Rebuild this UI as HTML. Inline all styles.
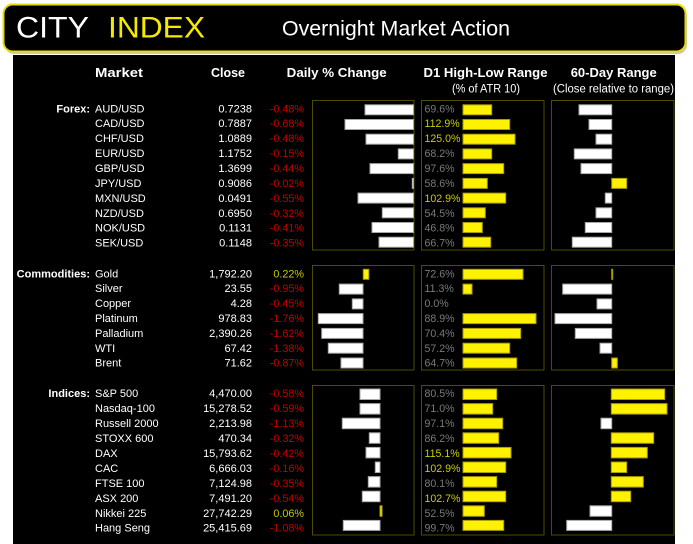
<!DOCTYPE html>
<html><head><meta charset="utf-8">
<style>
html,body{margin:0;padding:0;background:#fff;}
svg{display:block;}
text{font-family:"Liberation Sans",Arial,sans-serif;}
.n{font-size:11px;fill:#fff;}
.c{font-size:11px;fill:#fff;text-anchor:end;}
.r{font-size:10.8px;fill:#c00000;text-anchor:end;}
.p{font-size:10.8px;fill:#c8c800;text-anchor:end;}
.g{font-size:10.6px;fill:#7a7a7a;}
.y{font-size:10.6px;fill:#c8cc00;}
.s{font-size:11px;fill:#fff;font-weight:bold;text-anchor:end;}
.h{font-size:13px;fill:#fff;font-weight:bold;text-anchor:middle;}
.sub{font-size:11.5px;fill:#fff;text-anchor:middle;}
.w{fill:#fff;stroke:#a8a8a8;stroke-width:1;}
.yb{fill:#fff200;stroke:#a89c00;stroke-width:1;}
.bx{fill:none;stroke:#4f4b00;stroke-width:1;}
</style></head>
<body>
<svg width="693" height="544" viewBox="0 0 693 544" xmlns="http://www.w3.org/2000/svg">
<rect x="0" y="0" width="693" height="544" fill="#fff"/>
<!-- header -->
<rect x="5" y="7" width="682" height="47" rx="9" fill="#c8c8c8"/>
<rect x="3.5" y="4.5" width="682" height="47" rx="9" fill="#000" stroke="#e6dc00" stroke-width="2"/>
<text x="16" y="37.5" font-size="30" fill="#fff" textLength="73" lengthAdjust="spacingAndGlyphs">CITY</text>
<text x="108" y="37.5" font-size="30" fill="#f5e900" textLength="97" lengthAdjust="spacingAndGlyphs">INDEX</text>
<text x="282" y="35.5" font-size="21" fill="#fff" textLength="228" lengthAdjust="spacingAndGlyphs">Overnight Market Action</text>
<!-- main black -->
<rect x="13" y="55" width="662" height="489" fill="#000"/>
<!-- column headers -->
<text class="h" x="119" y="77" textLength="48" lengthAdjust="spacingAndGlyphs">Market</text>
<text class="h" x="228" y="77" textLength="34" lengthAdjust="spacingAndGlyphs">Close</text>
<text class="h" x="336.7" y="77" textLength="100" lengthAdjust="spacingAndGlyphs">Daily % Change</text>
<text class="h" x="485.5" y="77" textLength="124" lengthAdjust="spacingAndGlyphs">D1 High-Low Range</text>
<text class="h" x="613.7" y="77" textLength="86" lengthAdjust="spacingAndGlyphs">60-Day Range</text>
<text class="sub" x="486" y="92.5" textLength="68" lengthAdjust="spacingAndGlyphs">(% of ATR 10)</text>
<text class="sub" x="613.5" y="92.5" textLength="121" lengthAdjust="spacingAndGlyphs">(Close relative to range)</text>

<!-- boxes -->
<rect class="bx" x="312.5" y="100.5" width="101.5" height="149.5"/>
<rect class="bx" x="421.5" y="100.5" width="122.5" height="149.5"/>
<rect class="bx" x="551.5" y="100.5" width="122.5" height="149.5"/>
<rect class="bx" x="312.5" y="265.5" width="101.5" height="104.5"/>
<rect class="bx" x="421.5" y="265.5" width="122.5" height="104.5"/>
<rect class="bx" x="551.5" y="265.5" width="122.5" height="104.5"/>
<rect class="bx" x="312.5" y="385.5" width="101.5" height="149.5"/>
<rect class="bx" x="421.5" y="385.5" width="122.5" height="149.5"/>
<rect class="bx" x="551.5" y="385.5" width="122.5" height="149.5"/>

<!-- FOREX text -->
<text class="s" x="90" y="112.3">Forex:</text>
<text class="n" x="95" y="112.3">AUD/USD</text><text class="c" x="252" y="112.3">0.7238</text><text class="r" x="304" y="112.3">-0.48%</text><text class="g" x="424.5" y="112.3">69.6%</text>
<text class="n" x="95" y="127.2">CAD/USD</text><text class="c" x="252" y="127.2">0.7887</text><text class="r" x="304" y="127.2">-0.68%</text><text class="y" x="424.5" y="127.2">112.9%</text>
<text class="n" x="95" y="142.2">CHF/USD</text><text class="c" x="252" y="142.2">1.0889</text><text class="r" x="304" y="142.2">-0.48%</text><text class="y" x="424.5" y="142.2">125.0%</text>
<text class="n" x="95" y="157.1">EUR/USD</text><text class="c" x="252" y="157.1">1.1752</text><text class="r" x="304" y="157.1">-0.15%</text><text class="g" x="424.5" y="157.1">68.2%</text>
<text class="n" x="95" y="172.0">GBP/USD</text><text class="c" x="252" y="172.0">1.3699</text><text class="r" x="304" y="172.0">-0.44%</text><text class="g" x="424.5" y="172.0">97.6%</text>
<text class="n" x="95" y="187.0">JPY/USD</text><text class="c" x="252" y="187.0">0.9086</text><text class="r" x="304" y="187.0">-0.02%</text><text class="g" x="424.5" y="187.0">58.6%</text>
<text class="n" x="95" y="201.9">MXN/USD</text><text class="c" x="252" y="201.9">0.0491</text><text class="r" x="304" y="201.9">-0.55%</text><text class="y" x="424.5" y="201.9">102.9%</text>
<text class="n" x="95" y="216.8">NZD/USD</text><text class="c" x="252" y="216.8">0.6950</text><text class="r" x="304" y="216.8">-0.32%</text><text class="g" x="424.5" y="216.8">54.5%</text>
<text class="n" x="95" y="231.7">NOK/USD</text><text class="c" x="252" y="231.7">0.1131</text><text class="r" x="304" y="231.7">-0.41%</text><text class="g" x="424.5" y="231.7">46.8%</text>
<text class="n" x="95" y="246.7">SEK/USD</text><text class="c" x="252" y="246.7">0.1148</text><text class="r" x="304" y="246.7">-0.35%</text><text class="g" x="424.5" y="246.7">66.7%</text>

<!-- FOREX bars: daily -->
<rect class="w" x="365" y="104.8" width="48.5" height="10"/>
<rect class="w" x="345" y="119.5" width="68.5" height="10"/>
<rect class="w" x="366" y="134.2" width="47.5" height="10"/>
<rect class="w" x="398.3" y="148.9" width="15.2" height="10"/>
<rect class="w" x="370" y="163.6" width="43.5" height="10"/>
<rect class="w" x="412.3" y="178.4" width="1.2" height="10"/>
<rect class="w" x="358" y="193.1" width="55.5" height="10"/>
<rect class="w" x="382.3" y="207.8" width="31.2" height="10"/>
<rect class="w" x="372" y="222.5" width="41.5" height="10"/>
<rect class="w" x="379" y="237.2" width="34.5" height="10"/>
<!-- FOREX bars: D1 -->
<rect class="yb" x="463" y="104.8" width="28.7" height="10"/>
<rect class="yb" x="463" y="119.5" width="46.7" height="10"/>
<rect class="yb" x="463" y="134.2" width="52" height="10"/>
<rect class="yb" x="463" y="148.9" width="28.7" height="10"/>
<rect class="yb" x="463" y="163.6" width="40.7" height="10"/>
<rect class="yb" x="463" y="178.4" width="24.3" height="10"/>
<rect class="yb" x="463" y="193.1" width="42.7" height="10"/>
<rect class="yb" x="463" y="207.8" width="22.3" height="10"/>
<rect class="yb" x="463" y="222.5" width="19.3" height="10"/>
<rect class="yb" x="463" y="237.2" width="27.7" height="10"/>
<!-- FOREX bars: 60-day -->
<rect class="w" x="579" y="104.8" width="32.7" height="10"/>
<rect class="w" x="589" y="119.5" width="22.7" height="10"/>
<rect class="w" x="596" y="134.2" width="15.7" height="10"/>
<rect class="w" x="574.3" y="148.9" width="37.4" height="10"/>
<rect class="w" x="581" y="163.6" width="30.7" height="10"/>
<rect class="yb" x="611.7" y="178.4" width="15" height="10"/>
<rect class="w" x="605.3" y="193.1" width="6.4" height="10"/>
<rect class="w" x="596" y="207.8" width="15.7" height="10"/>
<rect class="w" x="585.3" y="222.5" width="26.4" height="10"/>
<rect class="w" x="572.3" y="237.2" width="39.4" height="10"/>

<!-- COMMODITIES text -->
<text class="s" x="90" y="277.3">Commodities:</text>
<text class="n" x="95" y="277.3">Gold</text><text class="c" x="252" y="277.3">1,792.20</text><text class="p" x="304" y="277.3">0.22%</text><text class="g" x="424.5" y="277.3">72.6%</text>
<text class="n" x="95" y="292.2">Silver</text><text class="c" x="252" y="292.2">23.55</text><text class="r" x="304" y="292.2">-0.95%</text><text class="g" x="424.5" y="292.2">11.3%</text>
<text class="n" x="95" y="307.1">Copper</text><text class="c" x="252" y="307.1">4.28</text><text class="r" x="304" y="307.1">-0.45%</text><text class="g" x="424.5" y="307.1">0.0%</text>
<text class="n" x="95" y="322.0">Platinum</text><text class="c" x="252" y="322.0">978.83</text><text class="r" x="304" y="322.0">-1.76%</text><text class="g" x="424.5" y="322.0">88.9%</text>
<text class="n" x="95" y="336.9">Palladium</text><text class="c" x="252" y="336.9">2,390.26</text><text class="r" x="304" y="336.9">-1.62%</text><text class="g" x="424.5" y="336.9">70.4%</text>
<text class="n" x="95" y="351.8">WTI</text><text class="c" x="252" y="351.8">67.42</text><text class="r" x="304" y="351.8">-1.38%</text><text class="g" x="424.5" y="351.8">57.2%</text>
<text class="n" x="95" y="366.7">Brent</text><text class="c" x="252" y="366.7">71.62</text><text class="r" x="304" y="366.7">-0.87%</text><text class="g" x="424.5" y="366.7">64.7%</text>

<!-- COMMODITIES bars: daily -->
<rect class="yb" x="363.3" y="269.3" width="5.5" height="10"/>
<rect class="w" x="339.3" y="284.1" width="23.7" height="10"/>
<rect class="w" x="352.3" y="298.9" width="10.7" height="10"/>
<rect class="w" x="318.3" y="313.6" width="44.7" height="10"/>
<rect class="w" x="321.7" y="328.4" width="41.3" height="10"/>
<rect class="w" x="328.3" y="343.2" width="34.7" height="10"/>
<rect class="w" x="341" y="358" width="22" height="10"/>
<!-- D1 -->
<rect class="yb" x="463" y="269.3" width="60" height="10"/>
<rect class="yb" x="463" y="284.1" width="9" height="10"/>
<rect class="yb" x="463" y="313.6" width="73" height="10"/>
<rect class="yb" x="463" y="328.4" width="57.7" height="10"/>
<rect class="yb" x="463" y="343.2" width="46.7" height="10"/>
<rect class="yb" x="463" y="358" width="53.7" height="10"/>
<!-- 60 -->
<rect class="yb" x="611.7" y="269.3" width="1" height="10"/>
<rect class="w" x="562.7" y="284.1" width="49" height="10"/>
<rect class="w" x="597" y="298.9" width="14.7" height="10"/>
<rect class="w" x="555" y="313.6" width="56.7" height="10"/>
<rect class="w" x="575.3" y="328.4" width="36.4" height="10"/>
<rect class="w" x="600" y="343.2" width="11.7" height="10"/>
<rect class="yb" x="611.7" y="358" width="5.6" height="10"/>

<!-- INDICES text -->
<text class="s" x="90" y="397.0">Indices:</text>
<text class="n" x="95" y="397.0">S&amp;P 500</text><text class="c" x="252" y="397.0">4,470.00</text><text class="r" x="304" y="397.0">-0.58%</text><text class="g" x="424.5" y="397.0">80.5%</text>
<text class="n" x="95" y="412.0">Nasdaq-100</text><text class="c" x="252" y="412.0">15,278.52</text><text class="r" x="304" y="412.0">-0.59%</text><text class="g" x="424.5" y="412.0">71.0%</text>
<text class="n" x="95" y="426.9">Russell 2000</text><text class="c" x="252" y="426.9">2,213.98</text><text class="r" x="304" y="426.9">-1.13%</text><text class="g" x="424.5" y="426.9">97.1%</text>
<text class="n" x="95" y="441.9">STOXX 600</text><text class="c" x="252" y="441.9">470.34</text><text class="r" x="304" y="441.9">-0.32%</text><text class="g" x="424.5" y="441.9">86.2%</text>
<text class="n" x="95" y="456.9">DAX</text><text class="c" x="252" y="456.9">15,793.62</text><text class="r" x="304" y="456.9">-0.42%</text><text class="y" x="424.5" y="456.9">115.1%</text>
<text class="n" x="95" y="471.9">CAC</text><text class="c" x="252" y="471.9">6,666.03</text><text class="r" x="304" y="471.9">-0.16%</text><text class="y" x="424.5" y="471.9">102.9%</text>
<text class="n" x="95" y="486.8">FTSE 100</text><text class="c" x="252" y="486.8">7,124.98</text><text class="r" x="304" y="486.8">-0.35%</text><text class="g" x="424.5" y="486.8">80.1%</text>
<text class="n" x="95" y="501.8">ASX 200</text><text class="c" x="252" y="501.8">7,491.20</text><text class="r" x="304" y="501.8">-0.54%</text><text class="y" x="424.5" y="501.8">102.7%</text>
<text class="n" x="95" y="516.8">Nikkei 225</text><text class="c" x="252" y="516.8">27,742.29</text><text class="p" x="304" y="516.8">0.06%</text><text class="g" x="424.5" y="516.8">52.5%</text>
<text class="n" x="95" y="531.7">Hang Seng</text><text class="c" x="252" y="531.7">25,415.69</text><text class="r" x="304" y="531.7">-1.08%</text><text class="g" x="424.5" y="531.7">99.7%</text>

<!-- INDICES bars: daily -->
<rect class="w" x="360" y="389" width="20" height="10.5"/>
<rect class="w" x="360" y="403.6" width="20" height="10.5"/>
<rect class="w" x="342.3" y="418.2" width="37.7" height="10.5"/>
<rect class="w" x="369.3" y="432.8" width="10.7" height="10.5"/>
<rect class="w" x="366" y="447.4" width="14" height="10.5"/>
<rect class="w" x="375.3" y="462" width="4.7" height="10.5"/>
<rect class="w" x="368.3" y="476.6" width="11.7" height="10.5"/>
<rect class="w" x="362.3" y="491.2" width="17.7" height="10.5"/>
<rect class="yb" x="380" y="505.8" width="2" height="10.5"/>
<rect class="w" x="343.3" y="520.4" width="36.7" height="10"/>
<!-- D1 -->
<rect class="yb" x="463" y="389" width="33.7" height="10.5"/>
<rect class="yb" x="463" y="403.6" width="29.7" height="10.5"/>
<rect class="yb" x="463" y="418.2" width="39.7" height="10.5"/>
<rect class="yb" x="463" y="432.8" width="35.7" height="10.5"/>
<rect class="yb" x="463" y="447.4" width="48" height="10.5"/>
<rect class="yb" x="463" y="462" width="42.7" height="10.5"/>
<rect class="yb" x="463" y="476.6" width="33.7" height="10.5"/>
<rect class="yb" x="463" y="491.2" width="42.7" height="10.5"/>
<rect class="yb" x="463" y="505.8" width="21.3" height="10.5"/>
<rect class="yb" x="463" y="520.4" width="40.7" height="10"/>
<!-- 60 -->
<rect class="yb" x="611.3" y="389" width="53.4" height="10.5"/>
<rect class="yb" x="611.3" y="403.6" width="55.7" height="10.5"/>
<rect class="w" x="601" y="418.2" width="10.7" height="10.5"/>
<rect class="yb" x="611.3" y="432.8" width="42.4" height="10.5"/>
<rect class="yb" x="611.3" y="447.4" width="36" height="10.5"/>
<rect class="yb" x="611.3" y="462" width="15.4" height="10.5"/>
<rect class="yb" x="611.3" y="476.6" width="32" height="10.5"/>
<rect class="yb" x="611.3" y="491.2" width="19.4" height="10.5"/>
<rect class="w" x="590" y="505.8" width="21.7" height="10.5"/>
<rect class="w" x="566.7" y="520.4" width="45" height="10"/>
</svg>
</body></html>
